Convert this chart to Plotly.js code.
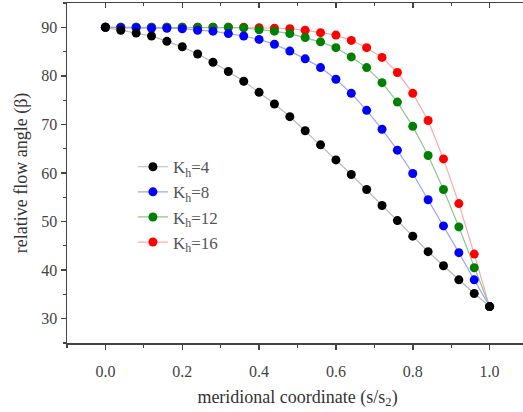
<!DOCTYPE html>
<html>
<head>
<meta charset="utf-8">
<script src="https://cdn.plot.ly/plotly-3.0.1.min.js"></script>
<style>
html, body { margin: 0; padding: 0; overflow: hidden; background: #fff; }
#chart { width: 540px; height: 412px; }
</style>
</head>
<body>
<div id="chart"></div>
<script>
// meridional coordinate s/s2
const s = [0.00, 0.04, 0.08, 0.12, 0.16, 0.20, 0.24, 0.28, 0.32, 0.36, 0.40, 0.44, 0.48,
           0.52, 0.56, 0.60, 0.64, 0.68, 0.72, 0.76, 0.80, 0.84, 0.88, 0.92, 0.96, 1.00];

const beta_K4  = [90.0, 89.4, 88.8, 88.2, 87.1, 86.0, 84.5, 82.8, 80.9, 78.9, 76.6, 74.2, 71.6,
                  68.7, 65.8, 62.7, 59.7, 56.6, 53.3, 50.2, 47.0, 43.8, 40.9, 38.0, 35.2, 32.5];
const beta_K8  = [90.0, 89.9, 89.9, 89.8, 89.8, 89.7, 89.4, 89.2, 88.7, 88.2, 87.5, 86.5, 85.1,
                  83.5, 81.7, 79.3, 76.4, 72.9, 69.0, 64.7, 59.9, 54.5, 49.1, 43.6, 38.0, 32.5];
const beta_K12 = [90.0, 90.0, 90.0, 90.0, 90.0, 90.0, 90.0, 90.0, 90.0, 89.9, 89.5, 89.2, 88.7,
                  87.9, 87.0, 85.8, 83.9, 81.7, 78.6, 74.6, 69.6, 63.6, 56.6, 48.9, 40.5, 32.5];
const beta_K16 = [90.0, 90.0, 90.0, 90.0, 90.0, 90.0, 90.0, 90.0, 90.0, 90.0, 89.9, 89.8, 89.7,
                  89.4, 88.9, 88.4, 87.3, 85.8, 83.8, 80.7, 76.4, 70.8, 62.9, 53.7, 43.3, 32.5];

const seriesNames = ['K<sub>h</sub>=4', 'K<sub>h</sub>=8', 'K<sub>h</sub>=12', 'K<sub>h</sub>=16'];
const seriesValues = [beta_K4, beta_K8, beta_K12, beta_K16];
const markerColors = ['#000000', '#0000ff', '#008000', '#ff0000'];
const lineColors   = ['#b8b8b8', '#a0a0ff', '#90c490', '#ffa8a8'];

const xTitle = 'meridional coordinate (s/s<sub>2</sub>)';
const yTitle = 'relative flow angle (β)';

const traces = [];
for (let i = seriesValues.length - 1; i >= 0; i--) {
  traces.push({
    x: s, y: seriesValues[i], name: seriesNames[i],
    type: 'scatter', mode: 'lines+markers',
    line: { color: lineColors[i], width: 1.2 },
    marker: { color: markerColors[i], size: 9 }
  });
}
// mirrored frame axes (top/right) with inward ticks
traces.push({ x: [], y: [], xaxis: 'x2', yaxis: 'y2', showlegend: false, hoverinfo: 'skip', type: 'scatter' });

const serif = 'Liberation Serif, Times New Roman, serif';
const axCol = '#444';
const xr = [-0.1, 1.1], yr = [25, 95];

const layout = {
  width: 540, height: 412,
  margin: { l: 67, r: 12, t: 3, b: 69 },
  paper_bgcolor: '#fff', plot_bgcolor: '#fff',
  font: { family: serif, color: '#444' },
  showlegend: true,
  legend: {
    x: 0.143, y: 0.57, xanchor: 'left', yanchor: 'top',
    traceorder: 'reversed',
    bgcolor: 'rgba(0,0,0,0)',
    font: { family: serif, size: 17, color: '#555' }
  },
  xaxis: {
    range: xr, tick0: 0, dtick: 0.2, tickformat: '.1f',
    ticks: 'outside', ticklen: 5, tickwidth: 1.5, tickcolor: axCol,
    minor: { dtick: 0.1, ticks: 'outside', ticklen: 3, tickwidth: 1.2, tickcolor: axCol, showgrid: false },
    showline: true, linecolor: axCol, linewidth: 1.5,
    showgrid: false, zeroline: false,
    tickfont: { family: serif, size: 16, color: '#444' },
    ticklabelstandoff: 8,
    title: { text: xTitle, font: { family: serif, size: 18, color: '#333' }, standoff: 11 }
  },
  yaxis: {
    range: yr, tick0: 30, dtick: 10,
    ticks: 'outside', ticklen: 5, tickwidth: 1.5, tickcolor: axCol,
    minor: { dtick: 5, ticks: 'outside', ticklen: 3, tickwidth: 1.2, tickcolor: axCol, showgrid: false },
    showline: true, linecolor: axCol, linewidth: 1.5,
    showgrid: false, zeroline: false,
    tickfont: { family: serif, size: 16, color: '#444' },
    title: { text: yTitle, font: { family: serif, size: 18, color: '#333' }, standoff: 9 }
  },
  xaxis2: {
    overlaying: 'x', side: 'top', range: xr, tick0: 0, dtick: 0.2,
    ticks: 'inside', ticklen: 5, tickwidth: 1.5, tickcolor: axCol,
    minor: { dtick: 0.1, ticks: 'inside', ticklen: 3, tickwidth: 1.2, tickcolor: axCol, showgrid: false },
    showticklabels: false, showline: true, linecolor: axCol, linewidth: 1.5,
    showgrid: false, zeroline: false
  },
  yaxis2: {
    overlaying: 'y', side: 'right', range: yr, tick0: 30, dtick: 10,
    ticks: 'inside', ticklen: 5, tickwidth: 1.5, tickcolor: axCol,
    minor: { dtick: 5, ticks: 'inside', ticklen: 3, tickwidth: 1.2, tickcolor: axCol, showgrid: false },
    showticklabels: false, showline: true, linecolor: axCol, linewidth: 1.5,
    showgrid: false, zeroline: false
  }
};

Plotly.newPlot('chart', traces, layout, { displayModeBar: false, staticPlot: true });
</script>
</body>
</html>
